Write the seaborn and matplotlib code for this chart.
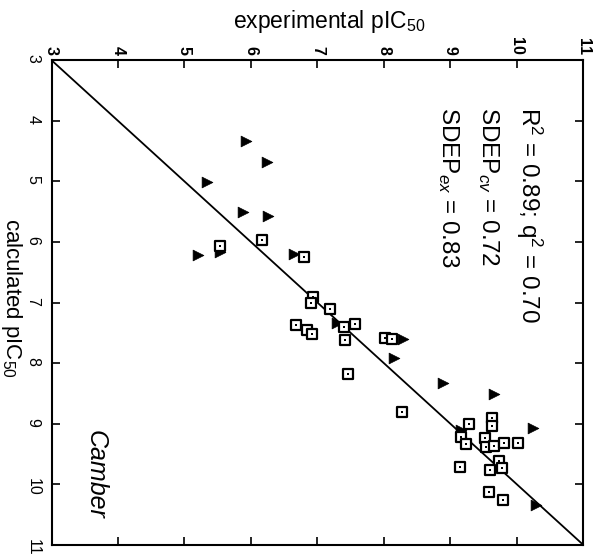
import matplotlib
matplotlib.use("Agg")
import matplotlib.pyplot as plt
import seaborn as sns
import pandas as pd

# Training-set compounds (open squares): experimental vs calculated pIC50
train_exp = [6.17, 5.54, 6.80, 6.94, 6.90, 7.19, 6.68, 6.84, 6.92, 7.40, 7.57,
             7.42, 7.46, 8.02, 8.12, 8.27, 9.62, 9.62, 9.28, 9.16, 9.24, 9.52,
             9.54, 9.65, 9.81, 10.01, 9.73, 9.77, 9.15, 9.59, 9.58, 9.79]
train_calc = [5.97, 6.06, 6.24, 6.91, 7.00, 7.10, 7.37, 7.46, 7.51, 7.41, 7.36,
              7.62, 8.18, 7.59, 7.60, 8.80, 8.90, 9.03, 9.00, 9.21, 9.33, 9.24,
              9.38, 9.36, 9.31, 9.32, 9.61, 9.73, 9.72, 9.77, 10.13, 10.25]

# Test-set compounds (filled triangles)
test_exp = [5.92, 6.24, 5.34, 5.88, 6.26, 5.54, 5.20, 6.65, 7.29, 8.29, 8.15,
            8.89, 9.65, 10.24, 9.16, 10.28]
test_calc = [4.33, 4.68, 5.01, 5.50, 5.57, 6.17, 6.21, 6.20, 7.34, 7.60, 7.92,
             8.33, 8.51, 9.07, 9.11, 10.34]

ticks = [3, 4, 5, 6, 7, 8, 9, 10, 11]

stat_lines = ["R$^2$ = 0.89; q$^2$ = 0.70",
              "SDEP$_{cv}$ = 0.72",
              "SDEP$_{ex}$ = 0.83"]

df = pd.DataFrame({
    "experimental": train_exp + test_exp,
    "calculated": train_calc + test_calc,
    "set": ["training"] * len(train_exp) + ["test"] * len(test_exp),
})

sns.set_theme(style="white")
plt.rcParams["font.family"] = ["Liberation Sans", "DejaVu Sans"]
plt.rcParams["mathtext.fontset"] = "custom"
plt.rcParams["mathtext.rm"] = "Liberation Sans"
plt.rcParams["mathtext.it"] = "Liberation Sans:italic"

fig = plt.figure(figsize=(5.99, 5.55), dpi=100)
ax = fig.add_axes([0.086, 0.018, 0.888, 0.8735])

# identity line
ax.plot([ticks[0], ticks[-1]], [ticks[0], ticks[-1]], color="black", lw=1.3, zorder=1)

train = df[df["set"] == "training"]
test = df[df["set"] == "test"]
sns.scatterplot(data=test, x="experimental", y="calculated", marker=">",
                s=60, color="black", edgecolor="black", linewidth=0.5,
                ax=ax, legend=False, zorder=3)
sns.scatterplot(data=train, x="experimental", y="calculated", marker="s",
                s=55, facecolor="white", edgecolor="black", linewidth=1.6,
                ax=ax, legend=False, zorder=4)
sns.scatterplot(data=train, x="experimental", y="calculated", marker="s",
                s=3, color="black", linewidth=0, ax=ax, legend=False, zorder=5)

ax.set_xlim(ticks[0], ticks[-1])
ax.set_ylim(ticks[-1], ticks[0])
ax.set_xticks(ticks)
ax.set_yticks(ticks)
ax.set_xticklabels([str(t) for t in ticks])
ax.set_yticklabels([str(t) for t in ticks])

ax.tick_params(axis="both", which="both", direction="in", length=6, width=1.2,
               top=True, bottom=True, left=True, right=True,
               labeltop=True, labelbottom=False, labelleft=True, labelright=False,
               labelsize=11.5, colors="black")
ax.tick_params(axis="x", pad=4)
ax.tick_params(axis="y", pad=8)
for lab in ax.get_xticklabels():
    lab.set_rotation(-90)
    lab.set_fontweight("bold")
for lab in ax.get_yticklabels():
    lab.set_rotation(-90)

for sp in ax.spines.values():
    sp.set_visible(True)
    sp.set_color("black")
    sp.set_linewidth(1.5)

ax.set_xlabel("")
ax.set_ylabel("")
fig.text(0.549, 0.9495, "experimental pIC$_{50}$", ha="center", va="baseline",
         fontsize=16.5, color="black")
fig.text(0.040, 0.464, "calculated pIC$_{50}$", ha="right", va="center",
         rotation=-90, fontsize=16, color="black")

# statistics block, one line per column, reading top to bottom
stat_x = [10.07, 9.47, 8.87]
for sx, line in zip(stat_x, stat_lines):
    ax.text(sx, 3.77, line, ha="left", va="baseline", rotation=-90,
            rotation_mode="anchor", fontsize=17.5, color="black", zorder=6)

ax.text(3.67, 9.1, "Camber", ha="center", va="top", rotation=-90,
        fontsize=18, style="italic", color="black")

fig.savefig("out.png", dpi=100, facecolor="white")
